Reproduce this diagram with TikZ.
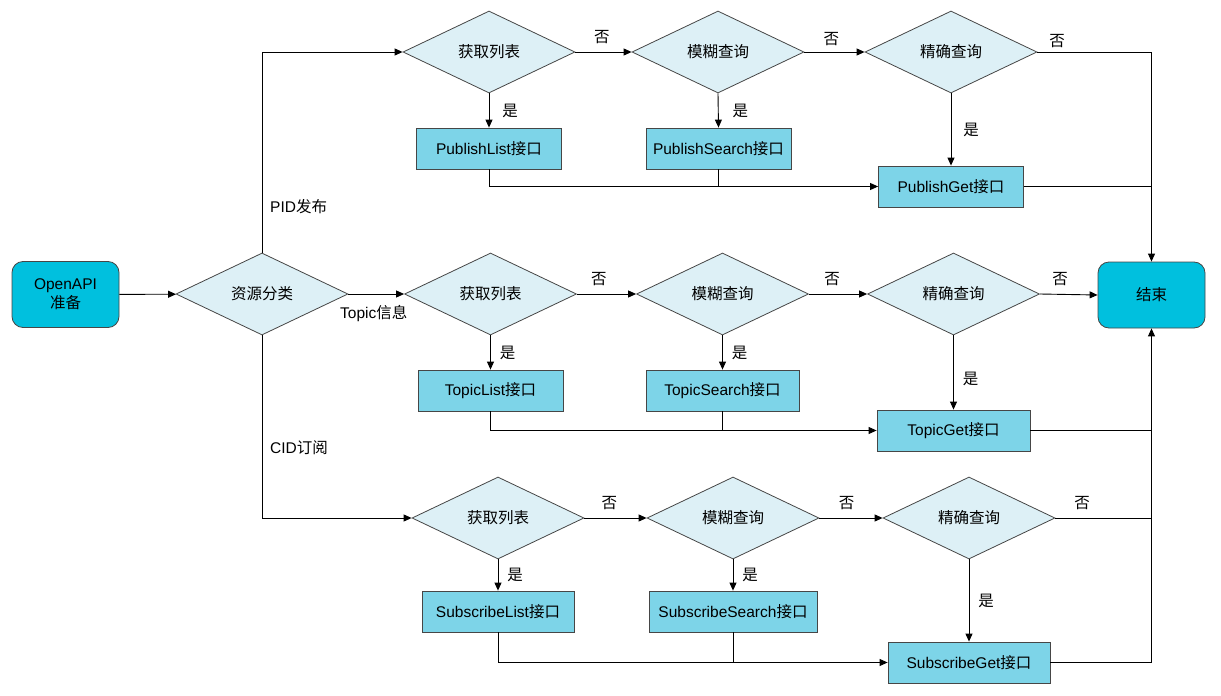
\documentclass[tikz,border=0pt]{standalone}
\usepackage{fontspec}
\setmainfont{Liberation Sans}
\newfontfamily\cjkfont{Noto Sans CJK SC}
\newcommand\zh[1]{{\cjkfont #1}}
\usetikzlibrary{shapes.geometric,arrows.meta}

\definecolor{termfill}{RGB}{0,192,222}
\definecolor{apifill}{RGB}{125,212,232}
\definecolor{decfill}{RGB}{221,240,246}
\definecolor{edgegray}{RGB}{70,70,70}

\tikzset{decision/.style = {diamond, draw = edgegray, fill = decfill, line width = 0.8pt,
                            minimum width = 172pt, minimum height = 82pt, aspect = 2.1, inner sep = 0pt},
         api/.style = {rectangle, draw = edgegray, fill = apifill, line width = 0.8pt,
                       minimum width = #1, minimum height = 41pt, inner sep = 0pt},
         api/.default = 145pt,
         terminal/.style = {rectangle, rounded corners = 11pt, draw = edgegray, fill = termfill,
                            line width = 0.8pt, minimum width = 107pt, minimum height = 66pt,
                            align = center, inner sep = 0pt},
         flow/.style = {-{Triangle[length = 8pt, width = 7pt]}, line width = 0.9pt},
         link/.style = {line width = 0.9pt},
         tag/.style = {inner sep = 0pt}
        }

\begin{document}
\begin{tikzpicture}[x = 1pt, y = -1pt, font = \fontsize{15.5}{19}\selectfont]
  \useasboundingbox (0,0) rectangle (1221,696);

  \node[terminal] (start) at (65.5,294.5) {OpenAPI\\\zh{准备}};
  \node[decision] (kind)  at (262,294)    {\zh{资源分类}};
  \node[terminal] (stop)  at (1151.5,295) {\zh{结束}};

  \node[decision] (pubList)   at (489,52)  {\zh{获取列表}};
  \node[decision] (pubSearch) at (718,52)  {\zh{模糊查询}};
  \node[decision] (pubGet)    at (951,52)  {\zh{精确查询}};
  \node[api]      (pubListApi)   at (489,148.5)   {PublishList\zh{接口}};
  \node[api]      (pubSearchApi) at (718.5,148.5) {PublishSearch\zh{接口}};
  \node[api]      (pubGetApi)    at (951,186.5)   {PublishGet\zh{接口}};

  \node[decision] (topList)   at (490.5,294) {\zh{获取列表}};
  \node[decision] (topSearch) at (722.5,294) {\zh{模糊查询}};
  \node[decision] (topGet)    at (953.5,294) {\zh{精确查询}};
  \node[api]      (topListApi)          at (490.5,390.5) {TopicList\zh{接口}};
  \node[api = 153pt] (topSearchApi)     at (722.5,390.5) {TopicSearch\zh{接口}};
  \node[api = 153pt] (topGetApi)        at (953.5,430.5) {TopicGet\zh{接口}};

  \node[decision] (subList)   at (498,518) {\zh{获取列表}};
  \node[decision] (subSearch) at (733,518) {\zh{模糊查询}};
  \node[decision] (subGet)    at (969,518) {\zh{精确查询}};
  \node[api = 152pt] (subListApi)   at (498,611.5) {SubscribeList\zh{接口}};
  \node[api = 168pt] (subSearchApi) at (733,611.5) {SubscribeSearch\zh{接口}};
  \node[api = 162pt] (subGetApi)    at (969,662.5) {SubscribeGet\zh{接口}};

  \node[tag, anchor = west] (pidTag)   at (270,207) {PID\zh{发布}};
  \node[tag, anchor = west] (topicTag) at (340,314) {Topic\zh{信息}};
  \node[tag, anchor = west] (cidTag)   at (270,448) {CID\zh{订阅}};

  \draw[flow] (start) -- (kind);
  \draw[flow] (kind.north) |- (pubList.west);
  \draw[flow] (kind.east) -- (topList.west);
  \draw[flow] (kind.south) |- (subList.west);

  % publish
  \draw[flow] (pubList.east) -- (pubSearch.west) node[tag, pos = 0.47, above = 8pt] (pubNo1) {\zh{否}};
  \draw[flow] (pubSearch.east) -- (pubGet.west) node[tag, pos = 0.45, above = 6pt] (pubNo2) {\zh{否}};
  \draw[flow] (pubGet.east) -| (stop.north);
  \node[tag] (pubNo3) at (1057,41) {\zh{否}};
  \draw[flow] (pubList.south) -- (pubListApi.north) node[tag, midway, right = 13pt] (pubYes1) {\zh{是}};
  \draw[flow] (pubSearch.south) -- (pubSearchApi.north) node[tag, midway, right = 14pt] (pubYes2) {\zh{是}};
  \draw[flow] (pubGet.south) -- (pubGetApi.north) node[tag, midway, right = 12pt] (pubYes3) {\zh{是}};
  \draw[flow] (pubListApi.south) |- (pubGetApi.west);
  \draw[link] (pubSearchApi.south) -- (pubSearchApi.south |- pubGetApi.west);
  \draw[link] (pubGetApi.east) -- (stop.north |- pubGetApi.east);

  % topic
  \draw[flow] (topList.east) -- (topSearch.west) node[tag, pos = 0.37, above = 8pt] (topNo1) {\zh{否}};
  \draw[flow] (topSearch.east) -- (topGet.west) node[tag, pos = 0.4, above = 8pt] (topNo2) {\zh{否}};
  \draw[flow] (topGet.east) -- (stop.west) node[tag, pos = 0.35, above = 8pt] (topNo3) {\zh{否}};
  \draw[flow] (topList.south) -- (topListApi.north) node[tag, midway, right = 9pt] (topYes1) {\zh{是}};
  \draw[flow] (topSearch.south) -- (topSearchApi.north) node[tag, midway, right = 9pt] (topYes2) {\zh{是}};
  \draw[flow] (topGet.south) -- (topGetApi.north) node[tag, pos = 0.58, right = 9pt] (topYes3) {\zh{是}};
  \draw[flow] (topListApi.south) |- (topGetApi.west);
  \draw[link] (topSearchApi.south) -- (topSearchApi.south |- topGetApi.west);
  \draw[link] (topGetApi.east) -- (stop.south |- topGetApi.east);

  % subscribe
  \draw[flow] (subList.east) -- (subSearch.west) node[tag, pos = 0.4, above = 8pt] (subNo1) {\zh{否}};
  \draw[flow] (subSearch.east) -- (subGet.west) node[tag, pos = 0.43, above = 8pt] (subNo2) {\zh{否}};
  \draw[link] (subGet.east) -- (stop.south |- subGet.east);
  \node[tag] (subNo3) at (1082,503) {\zh{否}};
  \draw[flow] (subList.south) -- (subListApi.north) node[tag, midway, right = 9pt] (subYes1) {\zh{是}};
  \draw[flow] (subSearch.south) -- (subSearchApi.north) node[tag, midway, right = 9pt] (subYes2) {\zh{是}};
  \draw[flow] (subGet.south) -- (subGetApi.north) node[tag, midway, right = 9pt] (subYes3) {\zh{是}};
  \draw[flow] (subListApi.south) |- (subGetApi.west);
  \draw[link] (subSearchApi.south) -- (subSearchApi.south |- subGetApi.west);
  \draw[flow] (subGetApi.east) -| (stop.south);
\end{tikzpicture}
\end{document}
